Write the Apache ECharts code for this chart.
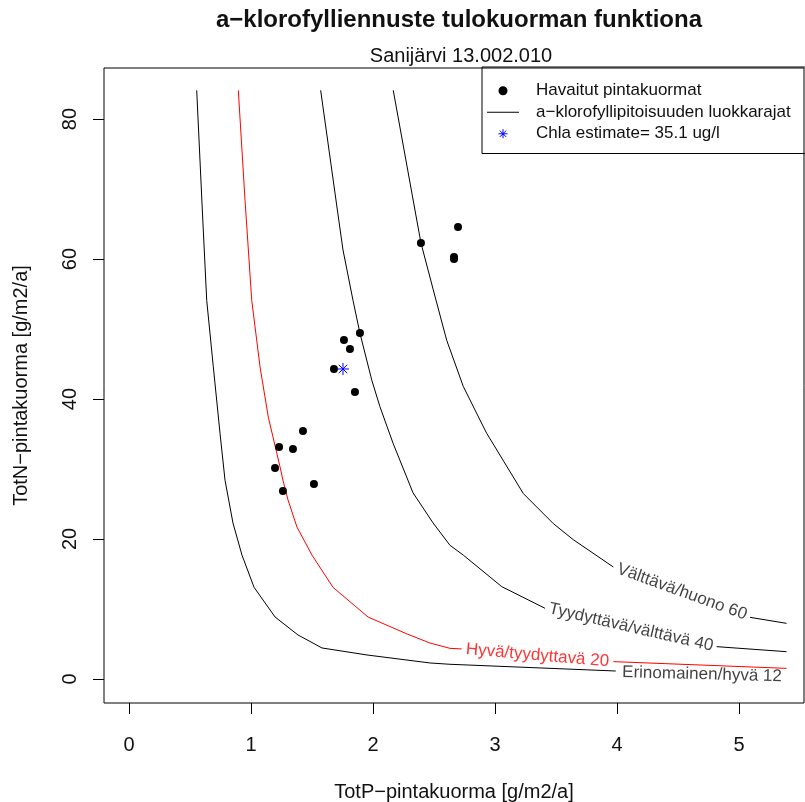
<!DOCTYPE html>
<html><head><meta charset="utf-8">
<script src="https://cdn.jsdelivr.net/npm/echarts@6/dist/echarts.min.js"></script>
<style>html,body{margin:0;padding:0;background:#fff}#c{width:805px;height:802px}</style>
</head><body><div id="c"></div>
<script>
const FONT = '"Liberation Sans", Arial, Helvetica, sans-serif';

// tick labels
const xTicks = [0, 1, 2, 3, 4, 5];
const yTicks = [0, 20, 40, 60, 80];

// observed surface loads (TotP, TotN)
const obsP = [2.697, 2.393, 2.664, 2.664, 1.893, 1.762, 1.811, 1.680, 1.852, 1.426, 1.230, 1.344, 1.197, 1.516, 1.262];
const obsN = [64.57, 62.29, 60.29, 60.00, 49.43, 48.43, 47.14, 44.29, 41.00, 35.43, 33.14, 32.86, 30.14, 27.86, 26.86];

// estimate
const estP = [1.754];
const estN = [44.29];
const chlaEstimate = 35.1;

// class limit curves [TotP, TotN]; second segment after the contour label
const curve12a = [[0.555,84.1],[0.601,67],[0.637,54.1],[0.691,44.6],[0.746,35.1],[0.787,28.4],[0.852,22.3],[0.926,17.7],[1.025,13.1],[1.197,8.86],[1.385,6.29],[1.582,4.43],[1.951,3.43],[2.467,2.29],[2.631,2.10],[3.99,1.14]];
const curve20a = [[0.896,84.1],[0.951,68.4],[1.006,54.1],[1.074,44.6],[1.142,37.4],[1.238,30.3],[1.262,28.4],[1.303,25.6],[1.377,21.7],[1.5,17.7],[1.672,13.1],[1.959,8.86],[2.279,6.43],[2.467,5.14],[2.631,4.38],[2.727,4.29]];
const curve20b = [[3.97,2.48],[5.39,1.52]];
const curve40a = [[1.571,84.1],[1.708,67],[1.754,61.3],[1.836,54.1],[1.893,49.4],[1.99,42.7],[2.057,38.9],[2.164,33.7],[2.328,26.6],[2.492,22.3],[2.631,19.1],[2.74,17.7],[3.055,13.2],[3.41,10.1]];
const curve40b = [[4.817,4.62],[5.39,3.9]];
const curve60a = [[2.166,84.1],[2.344,67],[2.393,62.3],[2.494,55.6],[2.604,48.4],[2.74,41.8],[2.877,37],[2.932,35.1],[3.232,26.5],[3.478,22.2],[3.642,19.9],[3.97,16.0]];
const curve60b = [[5.09,8.81],[5.39,7.95]];

// contour label texts
const curveLabels = ['Erinomainen/hyvä 12', 'Hyvä/tyydyttavä 20', 'Tyydyttävä/välttävä 40', 'Välttävä/huono 60'];

const labelLayout = [
  {at: [4.697, 0.64], rotate: -1.5, color: '#111'},
  {at: [3.348, 3.36], rotate: -5, color: '#ff0000'},
  {at: [4.115, 7.36], rotate: -13, color: '#111'},
  {at: [4.533, 12.43], rotate: -20, color: '#111'}
];

const OBS = 'Havaitut pintakuormat';
const LIM = 'a−klorofyllipitoisuuden luokkarajat';
const EST = 'Chla estimate= ' + chlaEstimate + ' ug/l';
const STAR = 'path://M0,-6L0,6M-6,0L6,0M-4.24,-4.24L4.24,4.24M-4.24,4.24L4.24,-4.24';
const LINEICON = 'path://M0,0L32,0L32,1L0,1Z';

function curveSeries(data, color) {
  return {
    type: 'line', name: LIM, data: data, symbol: 'none', showSymbol: false,
    lineStyle: {color: color, width: 1}, itemStyle: {color: color},
    silent: true, animation: false, z: 2
  };
}

const chart = echarts.init(document.getElementById('c'), null, {renderer: 'canvas'});
chart.setOption({
  backgroundColor: '#fff',
  animation: false,
  textStyle: {fontFamily: FONT},
  title: [
    {text: 'a−klorofylliennuste tulokuorman funktiona', left: 454, top: 3, textAlign: 'center',
     textStyle: {fontSize: 24, fontWeight: 'bold', color: '#111', fontFamily: FONT}},
    {text: 'Sanijärvi 13.002.010', left: 456, top: 41, textAlign: 'center',
     textStyle: {fontSize: 20, fontWeight: 'normal', color: '#111', fontFamily: FONT}}
  ],
  legend: {
    orient: 'vertical', left: 482, top: 67, selectedMode: false,
    borderColor: '#000', borderWidth: 1, borderRadius: 0,
    padding: [13, 30, 9, 5], itemWidth: 32, itemHeight: 9, itemGap: 0,
    textStyle: {fontSize: 17, fontFamily: FONT, color: '#111', lineHeight: 21.5, padding: [0, 0, 0, 12]},
    data: [
      {name: OBS, icon: 'path://M-8,0A2.6,2.6,0,1,1,-7.99,0Z', itemStyle: {color: '#000', opacity: 1}},
      {name: LIM, icon: LINEICON, itemStyle: {color: '#000'}},
      {name: EST, icon: STAR, itemStyle: {color: '#0000ff', borderColor: '#0000ff', borderWidth: 1}}
    ]
  },
  grid: {left: 104, top: 68, width: 700, height: 635, show: true, borderColor: '#000', borderWidth: 1,
         containLabel: false, outerBoundsMode: 'none'},
  xAxis: {
    type: 'value', min: -0.205, max: 5.533,
    name: 'TotP−pintakuorma [g/m2/a]', nameLocation: 'middle', nameGap: 79,
    nameTextStyle: {fontSize: 20, color: '#111', fontFamily: FONT},
    axisLine: {show: false, onZero: false},
    axisTick: {show: true, length: 11, inside: false, customValues: xTicks, lineStyle: {color: '#000'}},
    axisLabel: {show: true, customValues: xTicks, margin: 32, fontSize: 20, color: '#111', fontFamily: FONT},
    splitLine: {show: false}
  },
  yAxis: {
    type: 'value', min: -3.43, max: 87.29,
    name: 'TotN−pintakuorma [g/m2/a]', nameLocation: 'middle', nameGap: 73,
    nameTextStyle: {fontSize: 20, color: '#111', fontFamily: FONT},
    axisLine: {show: false, onZero: false},
    axisTick: {show: true, length: 11, inside: false, customValues: yTicks, lineStyle: {color: '#000'}},
    axisLabel: {show: true, customValues: yTicks, rotate: 90, margin: 24, fontSize: 20, color: '#111', fontFamily: FONT},
    splitLine: {show: false}
  },
  series: [
    curveSeries(curve12a, '#000'),
    curveSeries(curve20a, '#ff0000'),
    curveSeries(curve20b, '#ff0000'),
    curveSeries(curve40a, '#000'),
    curveSeries(curve40b, '#000'),
    curveSeries(curve60a, '#000'),
    curveSeries(curve60b, '#000'),
    {
      type: 'scatter', name: OBS, symbol: 'circle', symbolSize: 8,
      data: obsP.map((p, i) => [p, obsN[i]]),
      itemStyle: {color: '#000', opacity: 1}, silent: true, z: 4
    },
    {
      type: 'scatter', name: EST, symbol: STAR, symbolSize: 12,
      data: estP.map((p, i) => [p, estN[i]]),
      itemStyle: {color: '#0000ff', borderColor: '#0000ff', borderWidth: 1, opacity: 1}, silent: true, z: 5
    },
    {
      type: 'scatter', name: 'labels', symbolSize: 0, silent: true, z: 6,
      data: curveLabels.map((t, i) => ({
        name: t, value: labelLayout[i].at,
        label: {show: true, position: 'inside', formatter: '{b}', rotate: labelLayout[i].rotate,
                fontSize: 17, fontFamily: FONT, color: labelLayout[i].color}
      }))
    }
  ]
});
</script></body></html>
